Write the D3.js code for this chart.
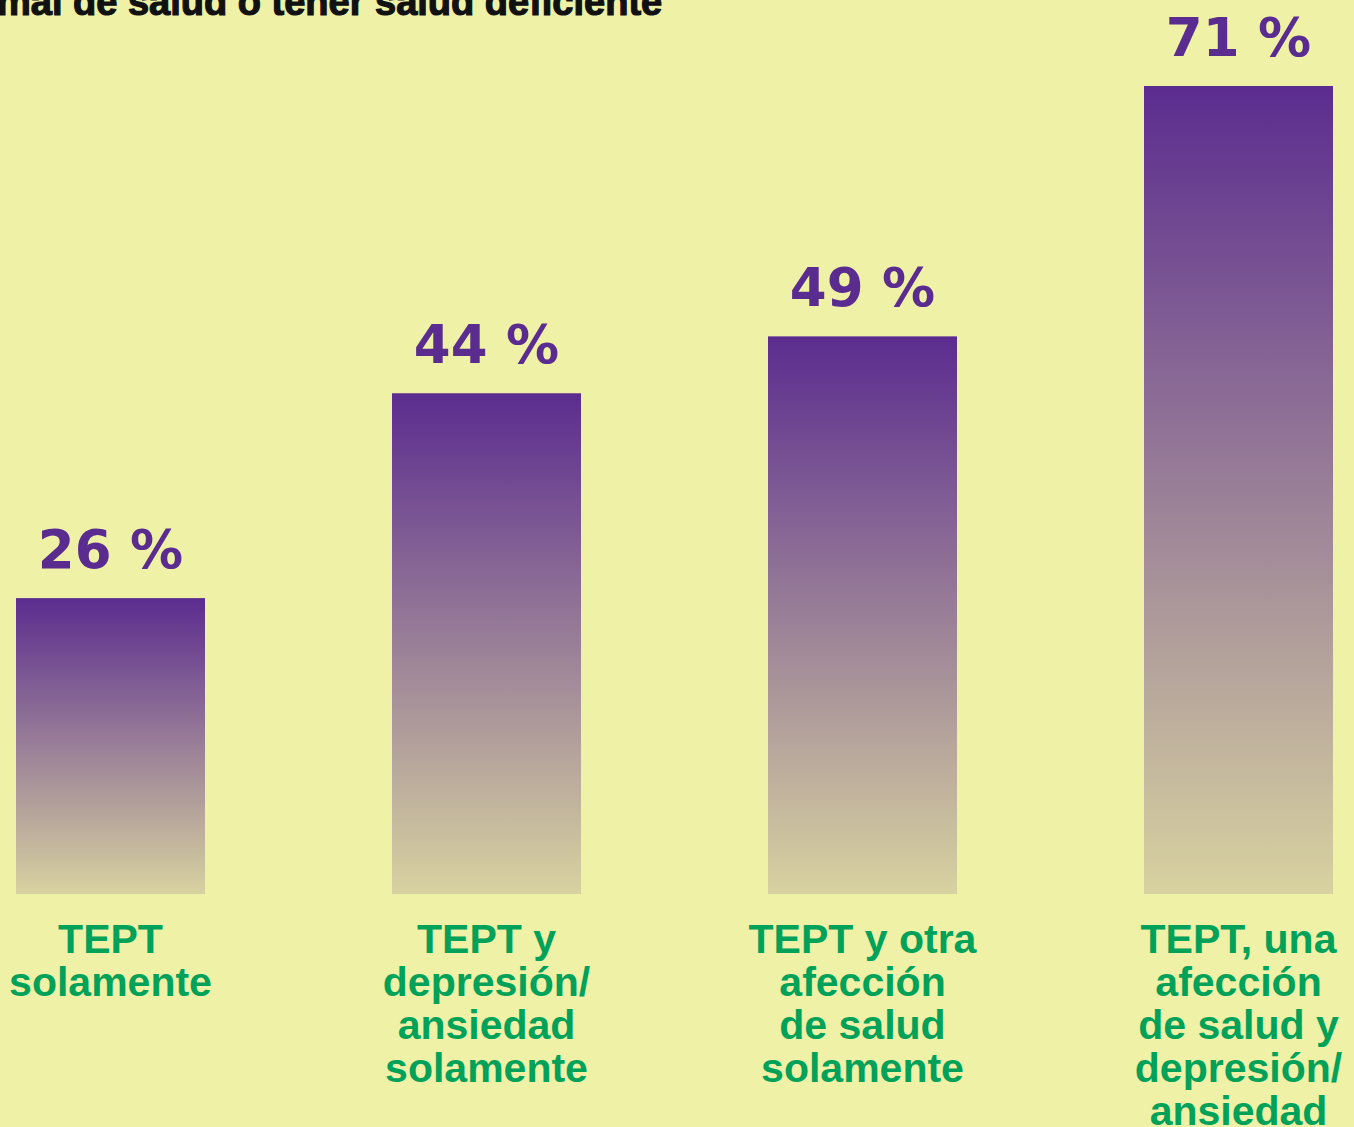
<!DOCTYPE html>
<html>
<head>
<meta charset="utf-8">
<script src="https://cdn.jsdelivr.net/npm/d3@7"></script>
<style>
  html, body { margin: 0; padding: 0; background: #eff1a7; overflow: hidden; }
  svg { display: block; }
</style>
</head>
<body>
<div id="chart"></div>
<script>
// data
var categories = ["c1", "c2", "c3", "c4"];
var values = [26, 44, 49, 71];
var valueLabels = ["26 %", "44 %", "49 %", "71 %"];
var categoryLines = [
  ["TEPT", "solamente"],
  ["TEPT y", "depresión/", "ansiedad", "solamente"],
  ["TEPT y otra", "afección", "de salud", "solamente"],
  ["TEPT, una", "afección", "de salud y", "depresión/", "ansiedad"]
];
var titleText = "mal de salud o tener salud deficiente";

var W = 1354, H = 1127;
var size = {margin: {top: 86, left: 16, right: 21, bottom: 233}};
size.width = W - size.margin.left - size.margin.right;
size.height = H - size.margin.top - size.margin.bottom;

var svg = d3.select("#chart").append("svg")
    .attr("width", W)
    .attr("height", H);

svg.append("rect").attr("width", W).attr("height", H).attr("fill", "#eff1a7");

var defs = svg.append("defs");
var grad = defs.append("linearGradient")
    .attr("id", "barGrad")
    .attr("x1", 0).attr("y1", 0).attr("x2", 0).attr("y2", 1);
grad.append("stop").attr("offset", "0%").attr("stop-color", "#5b2c8f");
grad.append("stop").attr("offset", "100%").attr("stop-color", "#d8d2a0");

// title (clipped at top in the reference)
svg.append("text")
    .attr("x", -3)
    .attr("y", 15)
    .attr("fill", "#111")
    .attr("stroke", "#111")
    .attr("stroke-width", 1.2)
    .style("font", "bold 38px 'Liberation Sans', Arial, sans-serif")
    .text(titleText);

var g = svg.append("g")
    .attr("transform", "translate(" + size.margin.left + "," + size.margin.top + ")");

var x = d3.scaleBand()
    .domain(categories)
    .range([0, size.width])
    .paddingInner(1 - 189 / 376)
    .paddingOuter(0);

var y = d3.scaleLinear()
    .domain([0, 71])
    .range([size.height, 0]);

g.selectAll("rect.bar")
  .data(values)
  .enter().append("rect")
    .attr("class", "bar")
    .attr("x", function(d, i) { return x(categories[i]); })
    .attr("y", function(d) { return y(d); })
    .attr("width", x.bandwidth())
    .attr("height", function(d) { return size.height - y(d); })
    .attr("fill", "url(#barGrad)");

g.selectAll("text.val")
  .data(values)
  .enter().append("text")
    .attr("class", "val")
    .attr("x", function(d, i) { return x(categories[i]) + x.bandwidth() / 2; })
    .attr("y", function(d) { return y(d) - 30; })
    .attr("text-anchor", "middle")
    .attr("fill", "#5b2c8f")
    .style("font", "bold 53px 'DejaVu Sans', sans-serif")
    .text(function(d, i) { return valueLabels[i]; });

var labels = g.selectAll("text.cat")
  .data(categoryLines)
  .enter().append("text")
    .attr("class", "cat")
    .attr("text-anchor", "middle")
    .attr("fill", "#00a25a")
    .style("font", "bold 41px 'Liberation Sans', Arial, sans-serif");

labels.selectAll("tspan")
  .data(function(d, i) { return d.map(function(t) { return {t: t, i: i}; }); })
  .enter().append("tspan")
    .attr("x", function(d) { return x(categories[d.i]) + x.bandwidth() / 2; })
    .attr("y", function(d, j) { return size.height + 59 + j * 43; })
    .text(function(d) { return d.t; });
</script>
</body>
</html>
